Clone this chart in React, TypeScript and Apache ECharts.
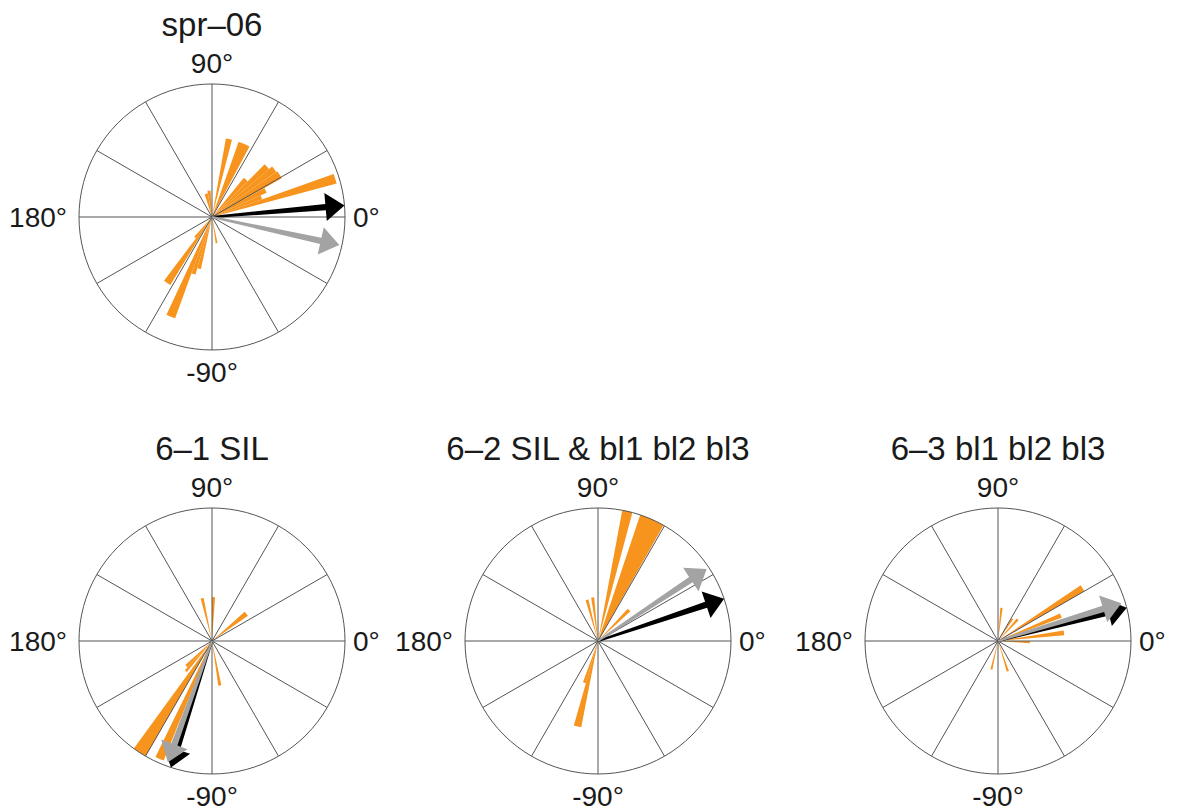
import React, { useEffect, useRef } from "react";
import * as echarts from "echarts";

// Panel titles and direction tick labels
const titles = ["spr\u201306", "6\u20131 SIL", "6\u20132 SIL & bl1 bl2 bl3", "6\u20133 bl1 bl2 bl3"];
const labelRight = "0\u00b0";
const labelTop = "90\u00b0";
const labelLeft = "180\u00b0";
const labelBottom = "-90\u00b0";

// Rose histogram bins: [startDeg, endDeg, relative frequency (1 = outer circle)]
const barsSpr06 = [
  [15, 19.5, 0.97],
  [19.5, 24, 0.4],
  [24, 29, 0.45],
  [29, 35, 0.6],
  [35, 40, 0.59],
  [40, 45, 0.56],
  [45, 51, 0.38],
  [62, 70.5, 0.6],
  [75.5, 80, 0.6],
  [93, 100, 0.2],
  [100, 108, 0.18],
  [228, 233, 0.2],
  [233, 238.5, 0.6],
  [245, 250, 0.81],
  [250, 254, 0.45],
  [254, 258, 0.4],
  [278, 282, 0.2],
];
const bars61 = [
  [35, 42, 0.33],
  [86, 90, 0.33],
  [101, 105, 0.33],
  [222, 227, 0.27],
  [227, 231, 0.3],
  [234, 240, 1.0],
  [244, 248, 0.97],
  [278, 282, 0.34],
];
const bars62 = [
  [42.5, 47.5, 0.33],
  [60.5, 71.5, 1.0],
  [75, 79.5, 1.0],
  [95, 99, 0.33],
  [103, 107, 0.32],
  [250, 254, 0.33],
  [254, 259, 0.66],
];
const bars63 = [
  [356, 360, 0.24],
  [5, 9, 0.5],
  [20, 24, 0.51],
  [30, 34, 0.75],
  [45, 50, 0.22],
  [55, 59, 0.2],
  [82, 86, 0.25],
  [255, 259, 0.22],
  [286, 290, 0.24],
];
const allBars = [barsSpr06, bars61, bars62, bars63];

// Mean direction vectors: [angleDeg, length]
const blackArrows = [
  [5, 1.0],
  [252, 1.0],
  [18.5, 1.0],
  [14.5, 1.0],
];
const grayArrows = [
  [347.6, 0.98],
  [250, 0.97],
  [33.5, 0.98],
  [17, 0.97],
];

// Layout
const CENTERS = [
  [212, 217],
  [212, 641],
  [598, 641],
  [998, 641],
];
const R = 133;
const ORANGE = "#F7941E";
const GRAY = "#A3A3A3";
const BLACK = "#000000";
const LINE = "#555555";
const FONT = "'Liberation Sans', Arial, Helvetica, sans-serif";

function barRender(params: any, api: any) {
  const a0 = api.value(0);
  const a1 = api.value(1);
  const v = api.value(2);
  const c = api.coord([0, (a0 + a1) / 2]);
  const p = api.coord([v, (a0 + a1) / 2]);
  const r = Math.hypot(p[0] - c[0], p[1] - c[1]);
  return {
    type: "sector",
    shape: {
      cx: c[0],
      cy: c[1],
      r0: 0,
      r,
      startAngle: (-a1 * Math.PI) / 180,
      endAngle: (-a0 * Math.PI) / 180,
      clockwise: true,
    },
    style: { fill: ORANGE },
  };
}

function makeArrowRender(color: string) {
  return function (params: any, api: any) {
    const a = api.value(0);
    const len = api.value(1);
    const c = api.coord([0, a]);
    const t = api.coord([len, a]);
    const dx = t[0] - c[0];
    const dy = t[1] - c[1];
    const L = Math.hypot(dx, dy);
    const ux = dx / L;
    const uy = dy / L;
    const nx = -uy;
    const ny = ux;
    const headLen = 19;
    const headHalf = 14;
    const w0 = 1;
    const w1 = 3.2;
    const bx = t[0] - ux * headLen;
    const by = t[1] - uy * headLen;
    const pts = [
      [c[0] + nx * w0, c[1] + ny * w0],
      [bx + nx * w1, by + ny * w1],
      [bx + nx * headHalf, by + ny * headHalf],
      [t[0], t[1]],
      [bx - nx * headHalf, by - ny * headHalf],
      [bx - nx * w1, by - ny * w1],
      [c[0] - nx * w0, c[1] - ny * w0],
    ];
    return { type: "polygon", shape: { points: pts }, style: { fill: color } };
  };
}

export default function App() {
  const ref = useRef<HTMLDivElement>(null);
  useEffect(() => {
    if (!ref.current) return;
    const chart = echarts.init(ref.current, undefined, { renderer: "svg" });

    const polar = CENTERS.map((c) => ({ center: c, radius: R }));
    const angleAxis = CENTERS.map((_, i) => ({
      polarIndex: i,
      type: "value",
      min: 0,
      max: 360,
      interval: 30,
      startAngle: 0,
      clockwise: false,
      z: 3,
      axisLine: { show: true, lineStyle: { color: LINE, width: 1 } },
      axisTick: { show: false },
      axisLabel: { show: false },
      splitLine: { show: true, lineStyle: { color: LINE, width: 1 } },
    }));
    const radiusAxis = CENTERS.map((_, i) => ({
      polarIndex: i,
      type: "value",
      min: 0,
      max: 1,
      axisLine: { show: false },
      axisTick: { show: false },
      axisLabel: { show: false },
      splitLine: { show: false },
    }));

    const series: any[] = [];
    allBars.forEach((bars, i) => {
      series.push({
        type: "custom",
        coordinateSystem: "polar",
        polarIndex: i,
        z: 2,
        encode: { angle: 0, radius: 2 },
        data: bars,
        renderItem: barRender,
        silent: true,
      });
    });
    blackArrows.forEach((a, i) => {
      series.push({
        type: "custom",
        coordinateSystem: "polar",
        polarIndex: i,
        z: 5,
        encode: { angle: 0, radius: 1 },
        data: [a],
        renderItem: makeArrowRender(BLACK),
        silent: true,
      });
    });
    grayArrows.forEach((a, i) => {
      series.push({
        type: "custom",
        coordinateSystem: "polar",
        polarIndex: i,
        z: 6,
        encode: { angle: 0, radius: 1 },
        data: [a],
        renderItem: makeArrowRender(GRAY),
        silent: true,
      });
    });

    const labelSize = 28;
    const titleSize = 33;
    const graphic: any[] = [];
    CENTERS.forEach((c, i) => {
      const [cx, cy] = c;
      const base = { fontSize: labelSize, fontFamily: FONT, fill: "#1a1a1a" };
      graphic.push(
        { type: "text", x: cx, y: cy - R - 21, style: { ...base, text: labelTop, align: "center", verticalAlign: "middle" } },
        { type: "text", x: cx, y: cy + R + 22, style: { ...base, text: labelBottom, align: "center", verticalAlign: "middle" } },
        { type: "text", x: cx + R + 8, y: cy, style: { ...base, text: labelRight, align: "left", verticalAlign: "middle" } },
        { type: "text", x: cx - R - 12, y: cy, style: { ...base, text: labelLeft, align: "right", verticalAlign: "middle" } },
        {
          type: "text",
          x: cx,
          y: cy - R - 60,
          style: { fontSize: titleSize, fontFamily: FONT, fill: "#1a1a1a", text: titles[i], align: "center", verticalAlign: "middle" },
        }
      );
    });

    chart.setOption({
      animation: false,
      backgroundColor: "#ffffff",
      polar,
      angleAxis,
      radiusAxis,
      series,
      graphic,
    });
    return () => chart.dispose();
  }, []);

  return (
    <div
      ref={ref}
      style={{ position: "fixed", left: 0, top: 0, width: 1178, height: 812, background: "#fff" }}
    />
  );
}
